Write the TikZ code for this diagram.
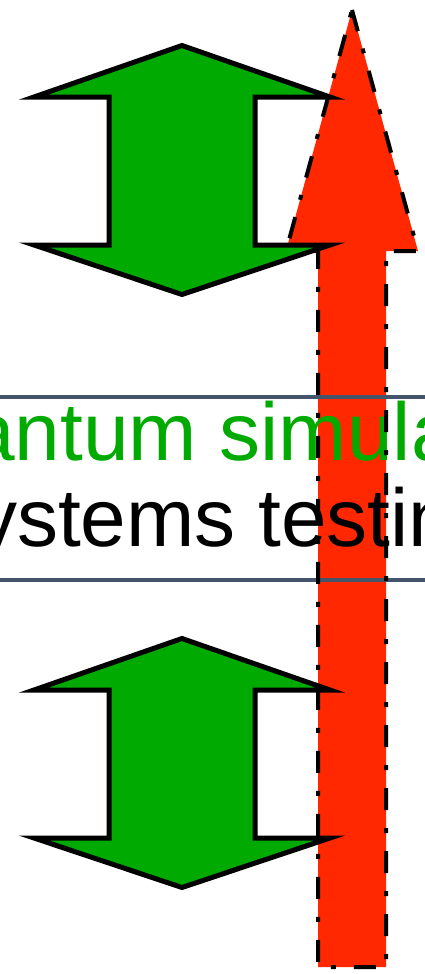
\documentclass[tikz,border=0pt]{standalone}
\usepackage{fontspec}
\setmainfont{Liberation Sans}
\definecolor{rd}{HTML}{FF2800}
\definecolor{grn}{HTML}{00AA00}
\definecolor{boxline}{HTML}{44546A}
\tikzset{
  greenarrow/.style={fill=grn, draw=black, line width=5pt, miter limit=10},
  redfill/.style={fill=rd},
  redoutline/.style={draw=black, line width=4pt, dash pattern=on 22pt off 18pt on 5pt off 18pt},
  rule/.style={draw=boxline, line width=4pt},
  bigtext/.style={anchor=base west, inner sep=0pt, font=\fontsize{82}{82}\selectfont}
}
\begin{document}
\begin{tikzpicture}[x=1pt,y=-1pt]
\useasboundingbox (0,0) rectangle (425,974);
\clip (0,0) rectangle (425,974);
% red arrow fill
\fill[redfill] (352,10) -- (418,251) -- (386,251) -- (386,967) -- (318,967) -- (318,251) -- (286,251) -- cycle;
% text box rules
\coordinate (r1a) at (-10,397); \coordinate (r1b) at (435,397);
\coordinate (r2a) at (-10,580); \coordinate (r2b) at (435,580);
\draw[rule] (r1a) -- (r1b);
\draw[rule] (r2a) -- (r2b);
% text
\node[bigtext, text=grn] (t1) at (-31,460) {antum simula};
\node[bigtext, text=black] (t2) at (-24,546) {ystems testin};
% red arrow outline
\draw[redoutline] (352,10) -- (418,251) -- (386,251) -- (386,967) -- (318,967) -- (318,251) -- (286,251) -- cycle;
% green double arrows
\foreach \dy in {0,593}{
  \begin{scope}[shift={(0,\dy)}]
    \draw[greenarrow] (182,45.5) -- (330,97) -- (255,97) -- (255,245) -- (330,245) -- (182,294.5) -- (34,245) -- (109,245) -- (109,97) -- (34,97) -- cycle;
  \end{scope}
}
\end{tikzpicture}
\end{document}
